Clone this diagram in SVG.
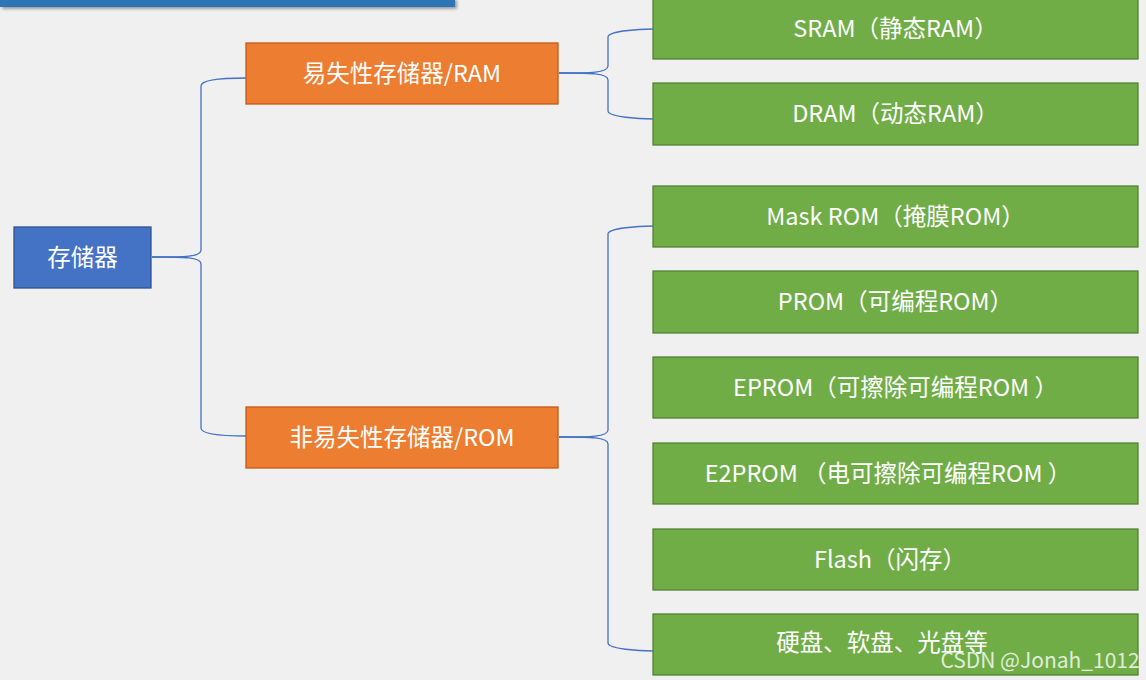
<svg xmlns="http://www.w3.org/2000/svg" width="1146" height="680" viewBox="0 0 1146 680">
<defs><filter id="sh" x="-5%" y="-50%" width="110%" height="250%"><feDropShadow dx="2" dy="2" stdDeviation="1.5" flood-color="#000" flood-opacity="0.35"/></filter></defs>
<style>
text{font-family:"Microsoft YaHei","Noto Sans CJK SC","Liberation Sans",sans-serif;font-size:23.5px;fill:#fff;text-anchor:middle;dominant-baseline:central}
.g rect{fill:#70ad47;stroke:#548235;stroke-width:1.3}
.o rect{fill:#ed7d31;stroke:#c55a11;stroke-width:1.3}
.c path{fill:none;stroke:#4472c4;stroke-width:1.3}
</style>
<rect width="1146" height="680" fill="#f0f0f0"/>
<rect x="0" y="-2" width="455" height="9" fill="#2e75b6" filter="url(#sh)"/>
<g class="c">
<path d="M152,257 C185,257 201,257 201,250 L201,86 C201,79 230,78 246,78"/>
<path d="M152,257 C185,257 201,257 201,264 L201,428 C201,435 230,436 246,436"/>
<path d="M559,73 C590,73 608,73 608,66 L608,37 C608,31 640,29 653,29"/>
<path d="M559,73 C590,73 608,73 608,80 L608,111 C608,117 640,119 653,119"/>
<path d="M559,437 C590,437 608,437 608,430 L608,234 C608,228 640,226 653,226"/>
<path d="M559,437 C590,437 608,437 608,444 L608,643 C608,649 640,651 653,651"/>
</g>
<g id="root"><rect x="14" y="227" width="137" height="61" fill="#4472c4" stroke="#2f528f" stroke-width="1.3"/><text x="82.5" y="255.5">存储器</text></g>
<g id="ram" class="o"><rect x="246" y="43" width="312" height="61"/><text x="402" y="71.5">易失性存储器/RAM</text></g>
<g id="rom" class="o"><rect x="246" y="407" width="312" height="61"/><text x="402" y="435.5">非易失性存储器/ROM</text></g>
<g id="sram" class="g"><rect x="653" y="-2" width="485" height="61"/><text x="895.5" y="26.5">SRAM（静态RAM）</text></g>
<g id="dram" class="g"><rect x="653" y="83" width="485" height="62"/><text x="895.5" y="112">DRAM（动态RAM）</text></g>
<g id="mask" class="g"><rect x="653" y="186" width="485" height="61"/><text x="895.5" y="214.5">Mask ROM（掩膜ROM）</text></g>
<g id="prom" class="g"><rect x="653" y="271" width="485" height="62"/><text x="895.5" y="300">PROM（可编程ROM）</text></g>
<g id="eprom" class="g"><rect x="653" y="357" width="485" height="61"/><text x="895.5" y="385.5">EPROM（可擦除可编程ROM ）</text></g>
<g id="e2prom" class="g"><rect x="653" y="443" width="485" height="61"/><text x="888" y="471.5">E2PROM （电可擦除可编程ROM ）</text></g>
<g id="flash" class="g"><rect x="653" y="529" width="485" height="61"/><text x="890" y="557.5">Flash（闪存）</text></g>
<g id="disk" class="g"><rect x="653" y="614" width="485" height="61"/><text x="882" y="641">硬盘、软盘、光盘等</text></g>
<text x="1040" y="659" style="font-size:21px;fill:#ffffff;fill-opacity:0.8">CSDN @Jonah_1012</text>
</svg>
